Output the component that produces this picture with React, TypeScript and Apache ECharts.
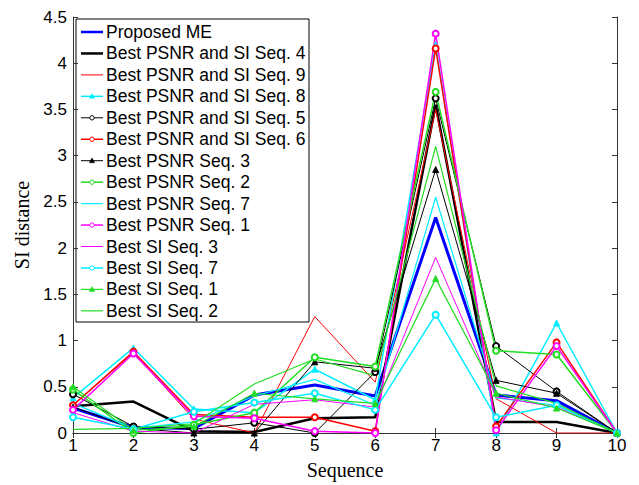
import React, { useEffect, useRef } from "react";
import * as echarts from "echarts";

const sequence = [1, 2, 3, 4, 5, 6, 7, 8, 9, 10];

const seriesNames = [
  "Proposed ME",
  "Best PSNR and SI Seq. 4",
  "Best PSNR and SI Seq. 9",
  "Best PSNR and SI Seq. 8",
  "Best PSNR and SI Seq. 5",
  "Best PSNR and SI Seq. 6",
  "Best PSNR Seq. 3",
  "Best PSNR Seq. 2",
  "Best PSNR Seq. 7",
  "Best PSNR Seq. 1",
  "Best SI Seq. 3",
  "Best SI Seq. 7",
  "Best SI Seq. 1",
  "Best SI Seq. 2",
];

const proposedME = [0.27, 0.06, 0.05, 0.41, 0.52, 0.4, 2.33, 0.41, 0.35, 0];
const psnrSiSeq4 = [0.29, 0.34, 0.02, 0.01, 0.16, 0.17, 3.55, 0.12, 0.12, 0];
const psnrSiSeq9 = [0.3, 0.87, 0.15, 0.0, 1.26, 0.55, 3.5, 0.37, 0.0, 0];
const psnrSiSeq8 = [0.38, 0.92, 0.26, 0.22, 0.69, 0.36, 4.2, 0.0, 1.19, 0];
const psnrSiSeq5 = [0.42, 0.07, 0.04, 0.11, 0.0, 0.66, 3.62, 0.94, 0.45, 0];
const psnrSiSeq6 = [0.3, 0.88, 0.2, 0.17, 0.17, 0.02, 4.16, 0.07, 0.98, 0];
const psnrSeq3 = [0.28, 0.05, 0.0, 0.0, 0.77, 0.7, 2.85, 0.57, 0.43, 0];
const psnrSeq2 = [0.47, 0.0, 0.09, 0.22, 0.82, 0.72, 3.69, 0.89, 0.85, 0];
const psnrSeq7 = [0.32, 0.05, 0.12, 0.4, 0.58, 0.3, 2.55, 0.38, 0.3, 0];
const psnrSeq1 = [0.25, 0.86, 0.18, 0.16, 0.02, 0.0, 4.32, 0.03, 0.94, 0];
const siSeq3 = [0.22, 0.02, 0.0, 0.31, 0.36, 0.28, 1.9, 0.39, 0.28, 0];
const siSeq7 = [0.17, 0.04, 0.23, 0.33, 0.43, 0.25, 1.28, 0.17, 0.3, 0];
const siSeq1 = [0.5, 0.03, 0.07, 0.43, 0.37, 0.32, 1.67, 0.43, 0.27, 0];
const siSeq2 = [0.04, 0.05, 0.1, 0.53, 0.8, 0.62, 3.1, 0.51, 0.32, 0];

const yTicks = [0, 0.5, 1, 1.5, 2, 2.5, 3, 3.5, 4, 4.5];

const allData = [
  proposedME, psnrSiSeq4, psnrSiSeq9, psnrSiSeq8, psnrSiSeq5, psnrSiSeq6, psnrSeq3,
  psnrSeq2, psnrSeq7, psnrSeq1, siSeq3, siSeq7, siSeq1, siSeq2,
];

const BLUE = "#0000ff";
const BLACK = "#000000";
const RED = "#ff0000";
const CYAN = "#00eeff";
const GREEN = "#22dd22";
const MAGENTA = "#ff00ff";

const styles: { color: string; width: number; symbol: string }[] = [
  { color: BLUE, width: 3, symbol: "none" },
  { color: BLACK, width: 2.5, symbol: "none" },
  { color: RED, width: 1, symbol: "none" },
  { color: CYAN, width: 1.5, symbol: "triangle" },
  { color: BLACK, width: 1, symbol: "emptyCircle" },
  { color: RED, width: 1.5, symbol: "emptyCircle" },
  { color: BLACK, width: 1, symbol: "triangle" },
  { color: GREEN, width: 1.5, symbol: "emptyCircle" },
  { color: CYAN, width: 1.2, symbol: "none" },
  { color: MAGENTA, width: 1.5, symbol: "emptyCircle" },
  { color: MAGENTA, width: 1, symbol: "none" },
  { color: CYAN, width: 1.5, symbol: "emptyCircle" },
  { color: GREEN, width: 1.2, symbol: "triangle" },
  { color: GREEN, width: 1.2, symbol: "none" },
];

export default function App() {
  const ref = useRef<HTMLDivElement>(null);
  useEffect(() => {
    if (!ref.current) return;
    const chart = echarts.init(ref.current, undefined, { renderer: "svg" });
    const font = "Liberation Sans, Arial, sans-serif";
    const serif = "Liberation Serif, Times New Roman, serif";
    const series = seriesNames.map((name, i) => ({
      name,
      type: "line",
      data: allData[i].map((v, j) => [sequence[j], v]),
      showSymbol: styles[i].symbol !== "none",
      symbol: styles[i].symbol,
      symbolSize: 6,
      lineStyle: { color: styles[i].color, width: styles[i].width },
      itemStyle: { color: styles[i].color, borderColor: styles[i].color, borderWidth: 1 },
      z: 2,
    }));

    // legend drawn as graphic elements
    const lx = 76, ly = 19, lw = 233, lh = 303;
    const rowY0 = 32, rowGap = 21.45;
    const legendChildren: any[] = [
      {
        type: "rect",
        shape: { x: lx, y: ly, width: lw, height: lh },
        style: { fill: "#ffffff", stroke: "#000000", lineWidth: 1 },
      },
    ];
    seriesNames.forEach((name, i) => {
      const y = rowY0 + i * rowGap;
      const st = styles[i];
      legendChildren.push({
        type: "line",
        shape: { x1: 81, y1: y, x2: 103, y2: y },
        style: { stroke: st.color, lineWidth: Math.min(st.width, 2.5) },
      });
      if (st.symbol === "emptyCircle") {
        legendChildren.push({
          type: "circle",
          shape: { cx: 92, cy: y, r: 2.2 },
          style: { fill: "#ffffff", stroke: st.color, lineWidth: 1 },
        });
      } else if (st.symbol === "triangle") {
        legendChildren.push({
          type: "polygon",
          shape: { points: [[92, y - 2.8], [89.3, y + 2], [94.7, y + 2]] },
          style: { fill: st.color, stroke: st.color, lineWidth: 0.5 },
        });
      }
      legendChildren.push({
        type: "text",
        x: 106,
        y,
        style: {
          text: name,
          fontFamily: font,
          fontSize: 17.5,
          fill: "#000000",
          verticalAlign: "middle",
          align: "left",
        },
      });
    });

    chart.setOption({
      animation: false,
      backgroundColor: "#ffffff",
      grid: { left: 73, right: 22, top: 17, bottom: 47, containLabel: false },
      graphic: [{ type: "group", z: 100, children: legendChildren }],
      xAxis: [
        {
          type: "value",
          min: 1,
          max: 10,
          interval: 1,
          name: "Sequence",
          nameLocation: "middle",
          nameGap: 27,
          nameTextStyle: { fontFamily: serif, fontSize: 20, color: "#000" },
          axisLine: { show: true, lineStyle: { color: "#333", width: 1 } },
          axisTick: { show: true, inside: true, length: 5, lineStyle: { color: "#333" } },
          axisLabel: { fontFamily: font, fontSize: 17, color: "#000", margin: 4 },
          splitLine: { show: false },
        },
        {
          type: "value",
          position: "top",
          min: 1,
          max: 10,
          interval: 1,
          axisLine: { show: true, lineStyle: { color: "#333", width: 1 } },
          axisTick: { show: true, inside: true, length: 5, lineStyle: { color: "#333" } },
          axisLabel: { show: false },
          splitLine: { show: false },
        },
      ],
      yAxis: [
        {
          type: "value",
          min: 0,
          max: 4.5,
          interval: 0.5,
          name: "SI distance",
          nameLocation: "middle",
          nameGap: 40,
          nameTextStyle: { fontFamily: serif, fontSize: 20, color: "#000" },
          axisLine: { show: true, lineStyle: { color: "#333", width: 1 } },
          axisTick: { show: true, inside: true, length: 5, lineStyle: { color: "#333" } },
          axisLabel: {
            fontFamily: font,
            fontSize: 17,
            color: "#000",
            margin: 6,
            formatter: (v: number) => (yTicks.includes(v) ? String(v) : ""),
          },
          splitLine: { show: false },
        },
        {
          type: "value",
          position: "right",
          min: 0,
          max: 4.5,
          interval: 0.5,
          axisLine: { show: true, lineStyle: { color: "#333", width: 1 } },
          axisTick: { show: true, inside: true, length: 5, lineStyle: { color: "#333" } },
          axisLabel: { show: false },
          splitLine: { show: false },
        },
      ],
      series,
    });
    return () => chart.dispose();
  }, []);
  return <div ref={ref} style={{ width: 639, height: 485, position: "absolute", left: 0, top: 0 }} />;
}
